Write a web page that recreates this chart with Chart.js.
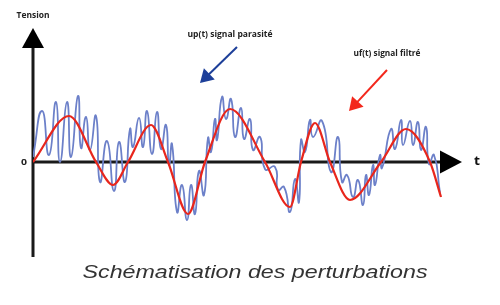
<!DOCTYPE html>
<html lang="fr">
<head>
    <meta charset="UTF-8">
    <title>Perturbations</title>
    <script src="https://cdn.jsdelivr.net/npm/chart.js@4.4.0/dist/chart.umd.min.js"></script>
    <style>
        body { margin: 0; background: #fff; }
    </style>
</head>
<body>
    <canvas id="signalchart" width="500" height="305"></canvas>

    <script>
        // filtered signal uf(t): zero crossings and extremes
        var redT = [0, 36, 63, 80, 95, 118, 135, 155, 172, 197, 232, 257, 268, 282, 297, 317, 348, 373, 397, 408];
        var redU = [0, 46, 0, -23, 0, 37, 0, -52, 0, 53, 0, -45, 0, 39, 0, -38, 0, 33, 0, -35];

        // noisy signal up(t): peaks and troughs of the ripple
        var blueT = [0, 9, 16, 23, 27, 34, 38, 45, 48, 53, 57, 63, 67, 74, 81, 86, 92, 97, 100, 106, 110,
                     114, 119, 124, 128, 133, 136, 139, 144, 149, 154, 158, 162, 166, 171, 175, 178, 182, 184,
                     189, 193, 198, 202, 208, 211, 217, 220, 227, 232, 242, 245, 251, 257, 262, 266, 268, 272,
                     277, 280, 289, 298, 305, 309, 314, 320, 325, 330, 333, 336, 340, 342, 347, 349, 358, 362,
                     368, 370, 377, 380, 385, 388, 393, 396, 401, 407];
        var blueU = [5, 51, 7, 60, 0, 60, 5, 66, 14, 45, 12, 46, -20, 21, -29, 20, -20, 33, 15, 44, 15,
                     51, 8, 50, 13, 37, -3, 18, -50, -23, -58, -23, -52, -9, -33, 24, 10, 43, 22,
                     65, 43, 63, 25, 54, 23, 43, 12, 25, -7, -5, -28, -25, -50, -17, -40, 22, 10,
                     42, 25, 41, -10, 25, -20, -13, -35, -18, -43, -13, -33, -3, -23, 7, -6, 33, 13,
                     42, 17, 41, 17, 40, 12, 35, -2, 7, -31];

        function pts(ts, us) {
            return ts.map(function(t, i) { return { x: t, y: us[i] }; });
        }

        // text squeezed/stretched to the width it has in the picture
        function fitText(ctx, txt, x, y, font, w, color) {
            ctx.save();
            ctx.font = font;
            ctx.fillStyle = color;
            ctx.textAlign = 'center';
            ctx.textBaseline = 'middle';
            var k = w / ctx.measureText(txt).width;
            ctx.translate(x, y);
            ctx.scale(k, 1);
            ctx.fillText(txt, 0, 0);
            ctx.restore();
        }

        function arrow(ctx, x1, y1, x2, y2, color, head) {
            var a = Math.atan2(y2 - y1, x2 - x1);
            ctx.save();
            ctx.strokeStyle = color;
            ctx.fillStyle = color;
            ctx.lineWidth = 2;
            ctx.beginPath();
            ctx.moveTo(x1, y1);
            ctx.lineTo(x2 - Math.cos(a) * head * 0.8, y2 - Math.sin(a) * head * 0.8);
            ctx.stroke();
            ctx.beginPath();
            ctx.moveTo(x2, y2);
            ctx.lineTo(x2 - head * Math.cos(a) + head * 0.6 * Math.sin(a), y2 - head * Math.sin(a) - head * 0.6 * Math.cos(a));
            ctx.lineTo(x2 - head * Math.cos(a) - head * 0.6 * Math.sin(a), y2 - head * Math.sin(a) + head * 0.6 * Math.cos(a));
            ctx.closePath();
            ctx.fill();
            ctx.restore();
        }

        var axesPlugin = {
            id: 'axesPlugin',
            beforeDatasetsDraw: function(chart) {
                var ctx = chart.ctx;
                var xs = chart.scales.x, ys = chart.scales.y;
                var x0 = xs.getPixelForValue(0), y0 = ys.getPixelForValue(0);
                var yTop = ys.getPixelForValue(134), yBot = ys.getPixelForValue(-95);
                var xEnd = xs.getPixelForValue(429);
                ctx.save();
                ctx.strokeStyle = '#1a1a1a';
                ctx.fillStyle = '#000';
                ctx.lineWidth = 3;
                ctx.beginPath();
                ctx.moveTo(x0, yBot);
                ctx.lineTo(x0, yTop + 10);
                ctx.moveTo(x0, y0);
                ctx.lineTo(xEnd - 10, y0);
                ctx.stroke();
                // arrow heads
                ctx.beginPath();
                ctx.moveTo(x0, yTop);
                ctx.lineTo(x0 - 11, yTop + 20);
                ctx.lineTo(x0 + 11, yTop + 20);
                ctx.closePath();
                ctx.fill();
                ctx.beginPath();
                ctx.moveTo(xEnd, y0);
                ctx.lineTo(xEnd - 22, y0 - 11.5);
                ctx.lineTo(xEnd - 22, y0 + 11.5);
                ctx.closePath();
                ctx.fill();
                ctx.restore();
            },
            afterDatasetsDraw: function(chart) {
                var ctx = chart.ctx;
                var xs = chart.scales.x, ys = chart.scales.y;
                function px(t) { return xs.getPixelForValue(t); }
                function py(u) { return ys.getPixelForValue(u); }

                fitText(ctx, 'Tension', px(0), py(146), 'bold 8px "Open Sans"', 33, '#222');
                fitText(ctx, '0', px(-9), py(0), 'bold 9px "Open Sans"', 6, '#222');
                fitText(ctx, 't', px(444), py(1), 'bold 13px "Open Sans"', 6, '#111');
                fitText(ctx, 'up(t) signal parasité', px(197), py(127), 'bold 8px "Open Sans"', 85, '#222');
                fitText(ctx, 'uf(t) signal filtré', px(354), py(108), 'bold 8px "Open Sans"', 67, '#222');

                arrow(ctx, px(204), py(115), px(167), py(79), '#1d3f99', 13);
                arrow(ctx, px(354), py(92), px(316), py(51), '#f3281c', 13);

                fitText(ctx, 'Schématisation des perturbations', px(222), py(-111), 'italic 19px "Liberation Sans"', 345, '#333');
            }
        };

        new Chart(document.getElementById('signalchart'), {
            type: 'line',
            data: {
                datasets: [
                    {
                        label: 'uf(t) signal filtré',
                        data: pts(redT, redU),
                        borderColor: '#e8261c',
                        borderWidth: 2.2,
                        pointRadius: 0,
                        cubicInterpolationMode: 'monotone',
                        fill: false,
                        order: 0
                    },
                    {
                        label: 'up(t) signal parasité',
                        data: pts(blueT, blueU),
                        borderColor: '#6c80c9',
                        borderWidth: 1.8,
                        pointRadius: 0,
                        tension: 0.6,
                        fill: false,
                        order: 1
                    }
                ]
            },
            options: {
                responsive: false,
                animation: false,
                layout: { padding: { left: 33, right: 37, top: 27, bottom: 48 } },
                scales: {
                    x: { type: 'linear', min: 0, max: 430, display: false },
                    y: { type: 'linear', min: -95, max: 135, display: false }
                },
                plugins: {
                    legend: { display: false },
                    tooltip: { enabled: false }
                }
            },
            plugins: [axesPlugin]
        });
    </script>
</body>
</html>
